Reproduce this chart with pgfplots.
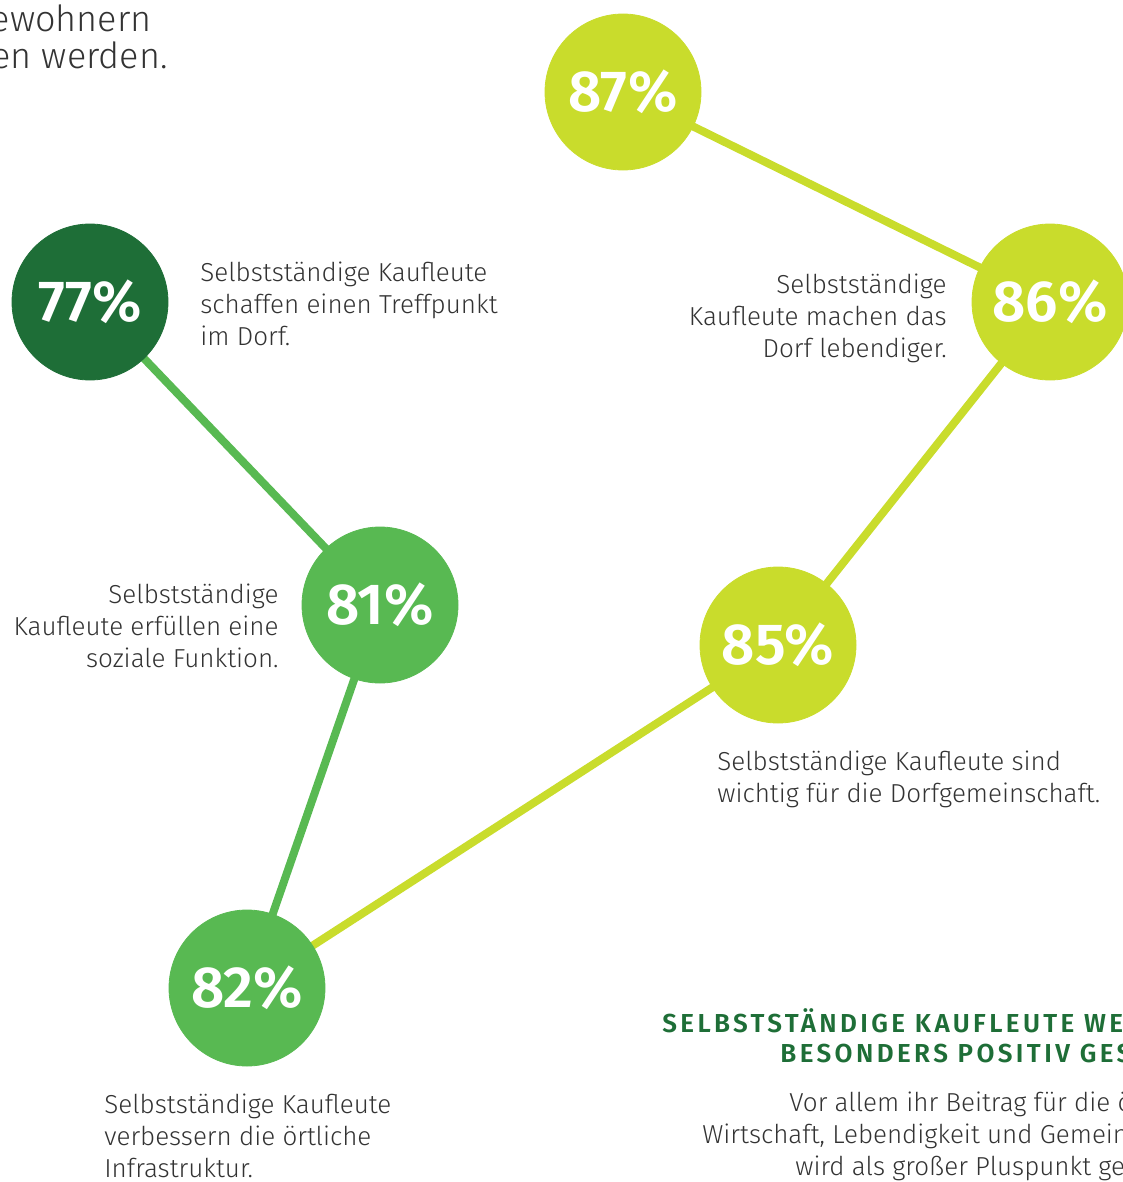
\documentclass[border=0pt]{standalone}
\usepackage{fontspec}
\setmainfont{Fira Sans Light}
\usepackage{pgfplots}
\pgfplotsset{compat=1.18}
\definecolor{dgreen}{HTML}{1E6E37}
\definecolor{mgreen}{HTML}{58B952}
\definecolor{lime}{HTML}{C9DC2C}
\definecolor{txt}{HTML}{333333}
\newfontfamily\headfont[LetterSpace=13]{Fira Sans SemiBold}
\newfontfamily\pctfont{Fira Sans SemiBold}

\begin{document}
\begin{tikzpicture}
\useasboundingbox (0,0) rectangle (561.5pt,591pt);
\clip (0,0) rectangle (561.5pt,591pt);
\begin{axis}[
    at={(0,0)}, anchor=south west,
    scale only axis, width=561.5pt, height=591pt,
    xmin=0, xmax=1123, ymin=0, ymax=1182,
    y dir=reverse,
    axis lines=none,
    clip=false,
]
% connecting lines
\addplot[mgreen, line width=4pt] coordinates {(90,302) (380,605) (247,988)};
\addplot[lime, line width=4pt] coordinates {(247,988) (778,645) (1050,302) (623,92)};

% circles with percentages
\pgfplotsset{circ/.style={only marks, mark=*, mark size=39pt,
    point meta=explicit symbolic, nodes near coords,
    every node near coord/.append style={anchor=center, text=white,
        font=\pctfont\fontsize{29}{32}\selectfont}}}
\addplot[circ, dgreen, mark options={fill=dgreen, draw=dgreen}] coordinates {(90,302) [77\%]};
\addplot[circ, mgreen, mark options={fill=mgreen, draw=mgreen}] coordinates {(380,605) [81\%] (247,988) [82\%]};
\addplot[circ, lime, mark options={fill=lime, draw=lime}] coordinates {(778,645) [85\%] (1050,302) [86\%] (623,92) [87\%]};

% descriptive texts
\begin{scope}[every node/.style={text=txt, font=\fontsize{13}{16}\selectfont, inner sep=0pt}]
\node[anchor=west, align=left] at (axis cs:200,304) {Selbstständige Kaufleute\\schaffen einen Treffpunkt\\im Dorf.};
\node[anchor=east, align=right] at (axis cs:279,626) {Selbstständige\\Kaufleute erfüllen eine\\soziale Funktion.};
\node[anchor=west, align=left] at (axis cs:104,1136) {Selbstständige Kaufleute\\verbessern die örtliche\\Infrastruktur.};
\node[anchor=west, align=left] at (axis cs:717,779) {Selbstständige Kaufleute sind\\wichtig für die Dorfgemeinschaft.};
\node[anchor=east, align=right] at (axis cs:947,318) {Selbstständige\\Kaufleute machen das\\Dorf lebendiger.};
\node[anchor=west] at (axis cs:789,1104) {Vor allem ihr Beitrag für die örtliche};
\node[anchor=west] at (axis cs:702,1136) {Wirtschaft, Lebendigkeit und Gemeinschaft};
\node[anchor=west] at (axis cs:795,1168) {wird als großer Pluspunkt gesehen.};
\end{scope}
\begin{scope}[every node/.style={text=txt, font=\fontsize{18}{21}\selectfont, inner sep=0pt}]
\node[anchor=east] at (axis cs:152,18) {Bewohnern};
\node[anchor=east] at (axis cs:168,59) {gesehen werden.};
\end{scope}
\begin{scope}[every node/.style={text=dgreen, font=\headfont\fontsize{13}{16}\selectfont, inner sep=0pt}]
\node[anchor=west] at (axis cs:662,1021) {SELBSTSTÄNDIGE KAUFLEUTE WERDEN};
\node[anchor=west] at (axis cs:780,1053) {BESONDERS POSITIV GESEHEN};
\end{scope}
\end{axis}
\end{tikzpicture}
\end{document}
